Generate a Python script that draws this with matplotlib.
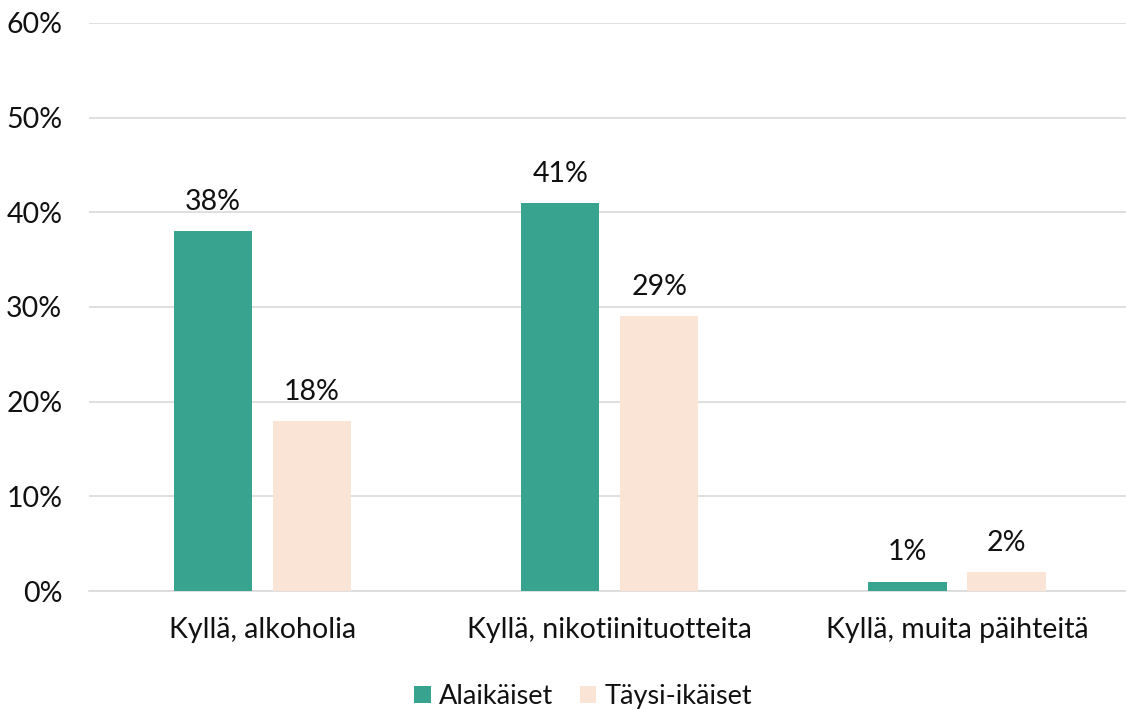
import matplotlib
matplotlib.use("Agg")
import matplotlib.pyplot as plt
import numpy as np
from matplotlib.ticker import FuncFormatter, MultipleLocator

categories = ["Kyllä, alkoholia", "Kyllä, nikotiinituotteita", "Kyllä, muita päihteitä"]
series_names = ["Alaikäiset", "Täysi-ikäiset"]
alaikaiset = [38, 41, 1]
taysi_ikaiset = [18, 29, 2]
colors = ["#38a38e", "#fae4d6"]

plt.rcParams['font.family'] = ['Lato', 'DejaVu Sans']
FS = 20.5
TC = "#111111"

fig = plt.figure(figsize=(11.26, 7.09), dpi=100)
ax = fig.add_axes([0.0788, 0.1664, 0.9254, 0.8012])

x = np.arange(len(categories))
w = 0.225
off = 0.1425
for vals, name, c, o in [(alaikaiset, series_names[0], colors[0], -off),
                         (taysi_ikaiset, series_names[1], colors[1], off)]:
    bars = ax.bar(x + o, vals, w, color=c, label=name, zorder=3)
    for b, v in zip(bars, vals):
        ax.text(b.get_x() + b.get_width() / 2, v + 1.7, f"{v}%", ha="center", va="bottom",
                fontsize=FS, color=TC)

ax.set_xlim(-0.5, 2.5)
ax.set_ylim(0, 60)
ax.yaxis.set_major_locator(MultipleLocator(10))
ax.yaxis.set_major_formatter(FuncFormatter(lambda v, p: f"{int(v)}%"))
ax.grid(axis="y", color="#d9d9d9", linewidth=1.2, zorder=0)
ax.set_xticks(x)
ax.set_xticklabels(categories)
ax.tick_params(axis="both", length=0, labelsize=FS, colors=TC)
ax.tick_params(axis="x", pad=19)
ax.tick_params(axis="y", pad=19)
for s in ["top", "right", "left"]:
    ax.spines[s].set_visible(False)
ax.spines["bottom"].set_color("#d9d9d9")
ax.spines["bottom"].set_linewidth(1.2)

fig.legend(loc="lower center", bbox_to_anchor=(0.518, -0.034), ncol=2, frameon=False,
           fontsize=19.5, handlelength=0.6, handleheight=0.6, handletextpad=0.3,
           columnspacing=1.0, labelcolor=TC)

fig.savefig("out.png", dpi=100)
